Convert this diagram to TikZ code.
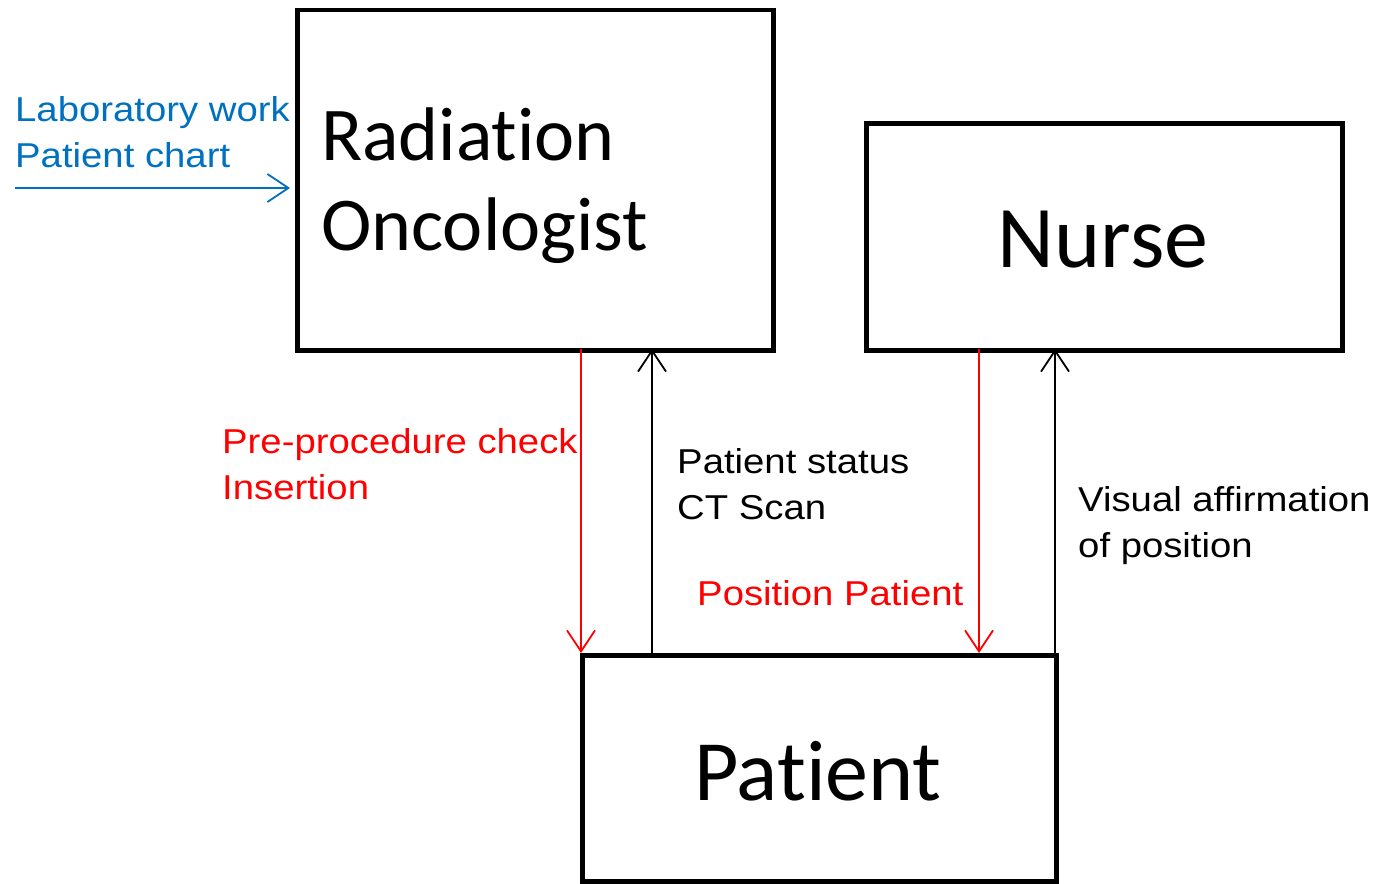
\documentclass[tikz,border=0pt]{standalone}
\usepackage{fontspec}
\setmainfont{Liberation Sans}
\newfontfamily\lblfont[FakeStretch=1.11]{Liberation Sans}
\newfontfamily\boxfont[Ligatures={NoCommon,NoRequired,NoContextual}]{Carlito}
\usetikzlibrary{arrows.meta}
\definecolor{flowblue}{RGB}{0,112,192}
\definecolor{flowred}{RGB}{255,0,0}
\tikzset{
  x=1pt, y=-1pt,
  actor/.style={draw=black, line width=4.5pt, inner sep=0pt, anchor=north west},
  flow/.style={line width=1.8pt, -{Straight Barb[length=21pt,width=28pt,line width=1.8pt]}},
  lbl/.style={font=\lblfont\fontsize{34.5}{46}\selectfont, align=left, anchor=west, inner sep=0pt},
  bigtxt/.style={font=\boxfont\fontsize{76}{90}\selectfont, align=left, inner sep=0pt},
}
\begin{document}
\begin{tikzpicture}
\useasboundingbox (0,0) rectangle (1375,883);

% actor boxes
\node[actor, minimum width=476pt, minimum height=340pt] (onc) at (295,8) {};
\node[actor, minimum width=476pt, minimum height=227pt] (nurse) at (864,121) {};
\node[actor, minimum width=474pt, minimum height=226pt] (pat) at (580,653) {};

% box titles
\node[bigtxt, anchor=north west] (onctxt) at (321,108) {Radiation\\Oncologist};
\node[bigtxt, font=\boxfont\fontsize{88}{100}\selectfont] (nursetxt) at (1103,240) {Nurse};
\node[bigtxt, font=\boxfont\fontsize{86}{100}\selectfont] (pattxt) at (818,771) {Patient};

% connection points on the box edges
\coordinate (oncA) at (581,349);
\coordinate (oncB) at (652,349);
\coordinate (nurA) at (979,349);
\coordinate (nurB) at (1055,349);
\coordinate (patA) at (581,653);
\coordinate (patB) at (652,653);
\coordinate (patC) at (979,653);
\coordinate (patD) at (1055,653);
\coordinate (src) at (15,188);
\coordinate (oncL) at (290,188);

% flows
\draw[flow, flowblue] (src) -- (oncL);
\draw[flow, flowred] (oncA) -- (patA);
\draw[flow, black] (patB) -- (oncB);
\draw[flow, flowred] (nurA) -- (patC);
\draw[flow, black] (patD) -- (nurB);

% flow labels
\node[lbl, text=flowblue] (lab) at (15,132) {Laboratory work\\Patient chart};
\node[lbl, text=flowred] (pre) at (222,464) {Pre-procedure check\\Insertion};
\node[lbl] (stat) at (677,484) {Patient status\\CT Scan};
\node[lbl, text=flowred] (pos) at (697,593) {Position Patient};
\node[lbl] (vis) at (1078,526) {Visual affirmation\\of position};
\end{tikzpicture}
\end{document}
